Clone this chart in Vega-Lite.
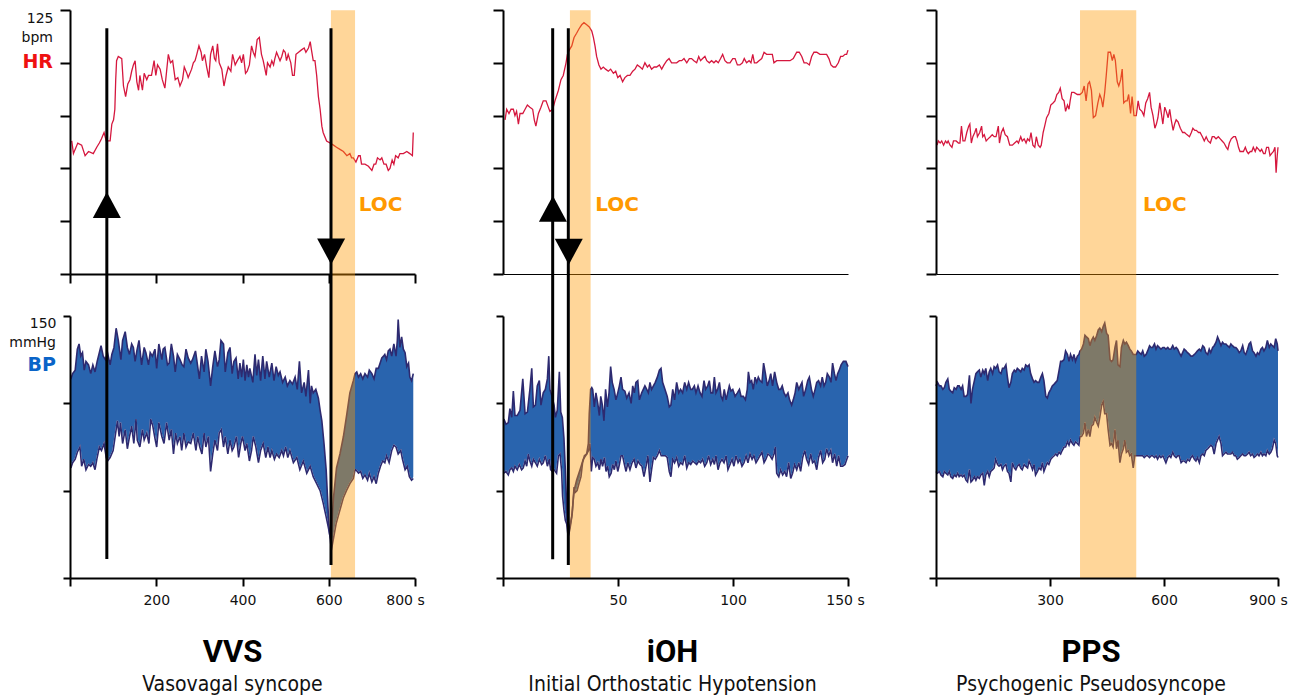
{
"$schema": "https://vega.github.io/schema/vega-lite/v6.json",
"padding": {"left": 9, "top": 9, "right": 2, "bottom": 2},
"background": "white",
"columns": 3,
"spacing": {"row": 42, "column": 88},
"bounds": "flush",
"config": {
  "view": {"stroke": null},
  "font": "DejaVu Sans",
  "axis": {"grid": false, "title": null, "domainColor": "#000", "tickColor": "#000", "domainWidth": 2, "tickWidth": 2, "labelFont": "DejaVu Sans", "labelFontSize": 14, "labelColor": "#111", "labelFlush": false, "labelOverlap": false, "labelBound": false, "zindex": 2},
  "title": {"font": "Roboto", "fontSize": 31, "fontWeight": "bold", "color": "#000", "subtitleFont": "DejaVu Sans Condensed, DejaVu Sans", "subtitleFontSize": 21, "subtitleColor": "#111", "subtitlePadding": 5, "offset": 31, "anchor": "middle", "frame": "group", "orient": "bottom"}
},
"datasets": {
"hr1": [{"t":4,"v":63},{"t":8,"v":57},{"t":18,"v":62},{"t":27,"v":61},{"t":35,"v":56},{"t":43,"v":58},{"t":54,"v":57},{"t":62,"v":60},{"t":68,"v":62},{"t":73,"v":64},{"t":79,"v":67},{"t":84,"v":63},{"t":87,"v":63},{"t":93,"v":63},{"t":97,"v":71},{"t":101,"v":73},{"t":104,"v":78},{"t":106,"v":92},{"t":108,"v":101},{"t":112,"v":103},{"t":120,"v":102},{"t":124,"v":89},{"t":129,"v":84},{"t":134,"v":90},{"t":139,"v":92},{"t":143,"v":96},{"t":147,"v":99},{"t":151,"v":101},{"t":155,"v":91},{"t":159,"v":87},{"t":162,"v":94},{"t":168,"v":87},{"t":172,"v":95},{"t":178,"v":92},{"t":182,"v":94},{"t":189,"v":94},{"t":195,"v":101},{"t":199,"v":94},{"t":203,"v":99},{"t":209,"v":97},{"t":214,"v":92},{"t":220,"v":88},{"t":224,"v":96},{"t":228,"v":104},{"t":233,"v":100},{"t":238,"v":101},{"t":244,"v":92},{"t":250,"v":93},{"t":255,"v":89},{"t":261,"v":92},{"t":265,"v":98},{"t":271,"v":95},{"t":274,"v":93},{"t":282,"v":97},{"t":286,"v":100},{"t":290,"v":101},{"t":294,"v":104},{"t":299,"v":108},{"t":304,"v":105},{"t":307,"v":101},{"t":312,"v":104},{"t":317,"v":98},{"t":322,"v":93},{"t":326,"v":104},{"t":331,"v":108},{"t":335,"v":102},{"t":338,"v":101},{"t":342,"v":109},{"t":346,"v":100},{"t":352,"v":97},{"t":357,"v":89},{"t":362,"v":94},{"t":367,"v":98},{"t":373,"v":96},{"t":377,"v":104},{"t":383,"v":99},{"t":388,"v":101},{"t":394,"v":103},{"t":398,"v":100},{"t":402,"v":104},{"t":407,"v":95},{"t":411,"v":96},{"t":416,"v":99},{"t":421,"v":108},{"t":425,"v":105},{"t":429,"v":103},{"t":434,"v":111},{"t":439,"v":112},{"t":444,"v":104},{"t":448,"v":101},{"t":455,"v":94},{"t":458,"v":100},{"t":464,"v":98},{"t":468,"v":101},{"t":472,"v":99},{"t":475,"v":102},{"t":479,"v":105},{"t":487,"v":101},{"t":491,"v":103},{"t":495,"v":106},{"t":499,"v":105},{"t":502,"v":101},{"t":506,"v":104},{"t":512,"v":100},{"t":516,"v":94},{"t":520,"v":94},{"t":524,"v":104},{"t":530,"v":105},{"t":536,"v":106},{"t":543,"v":107},{"t":547,"v":105},{"t":553,"v":107},{"t":557,"v":110},{"t":560,"v":106},{"t":564,"v":101},{"t":568,"v":101},{"t":572,"v":94},{"t":576,"v":84},{"t":580,"v":78},{"t":584,"v":70},{"t":587,"v":67},{"t":595,"v":63},{"t":603,"v":62},{"t":611,"v":61},{"t":618,"v":60},{"t":626,"v":59},{"t":634,"v":58},{"t":642,"v":56},{"t":649,"v":57},{"t":653,"v":55},{"t":657,"v":55},{"t":663,"v":53},{"t":669,"v":56},{"t":673,"v":56},{"t":676,"v":52},{"t":684,"v":52},{"t":692,"v":51},{"t":700,"v":49},{"t":705,"v":52},{"t":709,"v":52},{"t":713,"v":55},{"t":719,"v":54},{"t":723,"v":55},{"t":728,"v":52},{"t":733,"v":52},{"t":738,"v":49},{"t":742,"v":50},{"t":747,"v":54},{"t":751,"v":52},{"t":755,"v":56},{"t":761,"v":55},{"t":765,"v":57},{"t":773,"v":57},{"t":781,"v":58},{"t":788,"v":57},{"t":794,"v":56},{"t":796,"v":67}],
"s1": [{"t":2,"v":114},{"t":6,"v":117},{"t":12,"v":119},{"t":17,"v":131},{"t":21,"v":134},{"t":25,"v":127},{"t":29,"v":129},{"t":33,"v":119},{"t":37,"v":124},{"t":43,"v":122},{"t":48,"v":117},{"t":53,"v":122},{"t":58,"v":118},{"t":63,"v":124},{"t":68,"v":129},{"t":72,"v":133},{"t":77,"v":127},{"t":82,"v":125},{"t":87,"v":129},{"t":93,"v":122},{"t":97,"v":128},{"t":102,"v":132},{"t":107,"v":143},{"t":112,"v":136},{"t":118,"v":125},{"t":122,"v":136},{"t":128,"v":141},{"t":133,"v":132},{"t":138,"v":128},{"t":143,"v":134},{"t":147,"v":132},{"t":151,"v":124},{"t":155,"v":130},{"t":160,"v":136},{"t":166,"v":122},{"t":172,"v":132},{"t":176,"v":129},{"t":182,"v":122},{"t":186,"v":129},{"t":191,"v":127},{"t":197,"v":131},{"t":201,"v":120},{"t":206,"v":134},{"t":213,"v":125},{"t":216,"v":131},{"t":220,"v":132},{"t":226,"v":122},{"t":230,"v":123},{"t":235,"v":134},{"t":240,"v":127},{"t":244,"v":118},{"t":249,"v":128},{"t":255,"v":125},{"t":260,"v":122},{"t":264,"v":121},{"t":269,"v":131},{"t":274,"v":126},{"t":280,"v":123},{"t":284,"v":125},{"t":291,"v":130},{"t":295,"v":123},{"t":300,"v":114},{"t":305,"v":127},{"t":311,"v":118},{"t":315,"v":131},{"t":320,"v":124},{"t":326,"v":110},{"t":331,"v":121},{"t":336,"v":130},{"t":342,"v":121},{"t":346,"v":125},{"t":350,"v":136},{"t":356,"v":134},{"t":360,"v":118},{"t":366,"v":129},{"t":371,"v":132},{"t":376,"v":117},{"t":380,"v":124},{"t":385,"v":126},{"t":390,"v":114},{"t":394,"v":123},{"t":398,"v":115},{"t":402,"v":125},{"t":406,"v":113},{"t":410,"v":122},{"t":414,"v":115},{"t":417,"v":120},{"t":424,"v":112},{"t":429,"v":128},{"t":433,"v":116},{"t":437,"v":125},{"t":442,"v":113},{"t":447,"v":127},{"t":452,"v":114},{"t":456,"v":124},{"t":462,"v":115},{"t":468,"v":123},{"t":473,"v":113},{"t":478,"v":121},{"t":483,"v":116},{"t":487,"v":118},{"t":493,"v":112},{"t":499,"v":115},{"t":504,"v":110},{"t":510,"v":113},{"t":516,"v":111},{"t":522,"v":115},{"t":527,"v":108},{"t":532,"v":124},{"t":537,"v":106},{"t":543,"v":112},{"t":547,"v":104},{"t":553,"v":119},{"t":557,"v":100},{"t":560,"v":110},{"t":564,"v":106},{"t":570,"v":108},{"t":576,"v":103},{"t":580,"v":96},{"t":584,"v":90},{"t":589,"v":77},{"t":594,"v":62},{"t":597,"v":47},{"t":600,"v":31},{"t":602,"v":25},{"t":605,"v":22},{"t":607,"v":30},{"t":611,"v":46},{"t":618,"v":63},{"t":626,"v":71},{"t":634,"v":81},{"t":642,"v":94},{"t":649,"v":106},{"t":657,"v":113},{"t":661,"v":117},{"t":665,"v":118},{"t":669,"v":115},{"t":674,"v":117},{"t":679,"v":114},{"t":684,"v":117},{"t":690,"v":115},{"t":694,"v":119},{"t":700,"v":117},{"t":705,"v":114},{"t":710,"v":120},{"t":715,"v":120},{"t":719,"v":123},{"t":723,"v":126},{"t":727,"v":127},{"t":730,"v":128},{"t":734,"v":125},{"t":738,"v":130},{"t":742,"v":131},{"t":746,"v":127},{"t":751,"v":134},{"t":756,"v":127},{"t":759,"v":136},{"t":761,"v":148},{"t":765,"v":132},{"t":769,"v":138},{"t":773,"v":131},{"t":777,"v":129},{"t":781,"v":121},{"t":785,"v":123},{"t":788,"v":115},{"t":792,"v":113},{"t":796,"v":117}],
"d1": [{"t":2,"v":63},{"t":6,"v":66},{"t":12,"v":68},{"t":17,"v":72},{"t":23,"v":75},{"t":27,"v":64},{"t":32,"v":68},{"t":37,"v":62},{"t":43,"v":65},{"t":48,"v":64},{"t":53,"v":66},{"t":58,"v":62},{"t":63,"v":69},{"t":68,"v":75},{"t":73,"v":73},{"t":79,"v":77},{"t":84,"v":69},{"t":87,"v":67},{"t":93,"v":69},{"t":100,"v":73},{"t":107,"v":85},{"t":110,"v":90},{"t":114,"v":81},{"t":117,"v":89},{"t":122,"v":77},{"t":128,"v":85},{"t":133,"v":74},{"t":138,"v":81},{"t":143,"v":87},{"t":148,"v":77},{"t":153,"v":91},{"t":156,"v":79},{"t":162,"v":75},{"t":168,"v":85},{"t":172,"v":79},{"t":178,"v":83},{"t":183,"v":77},{"t":187,"v":91},{"t":192,"v":87},{"t":197,"v":80},{"t":201,"v":75},{"t":206,"v":89},{"t":213,"v":81},{"t":218,"v":77},{"t":224,"v":89},{"t":230,"v":79},{"t":235,"v":85},{"t":240,"v":71},{"t":245,"v":83},{"t":249,"v":77},{"t":255,"v":81},{"t":259,"v":73},{"t":264,"v":83},{"t":269,"v":75},{"t":274,"v":78},{"t":280,"v":77},{"t":286,"v":83},{"t":292,"v":73},{"t":296,"v":81},{"t":301,"v":75},{"t":306,"v":71},{"t":311,"v":83},{"t":315,"v":75},{"t":321,"v":81},{"t":326,"v":61},{"t":331,"v":71},{"t":336,"v":79},{"t":342,"v":73},{"t":346,"v":83},{"t":351,"v":85},{"t":356,"v":75},{"t":360,"v":81},{"t":366,"v":71},{"t":371,"v":79},{"t":376,"v":73},{"t":380,"v":75},{"t":386,"v":81},{"t":391,"v":69},{"t":396,"v":77},{"t":400,"v":81},{"t":406,"v":73},{"t":410,"v":77},{"t":416,"v":67},{"t":421,"v":73},{"t":425,"v":81},{"t":431,"v":75},{"t":437,"v":66},{"t":442,"v":73},{"t":448,"v":77},{"t":454,"v":69},{"t":459,"v":75},{"t":464,"v":69},{"t":468,"v":73},{"t":474,"v":68},{"t":479,"v":71},{"t":485,"v":69},{"t":491,"v":73},{"t":495,"v":70},{"t":500,"v":75},{"t":505,"v":69},{"t":510,"v":73},{"t":518,"v":66},{"t":526,"v":69},{"t":533,"v":62},{"t":541,"v":67},{"t":549,"v":60},{"t":557,"v":64},{"t":564,"v":58},{"t":572,"v":54},{"t":580,"v":50},{"t":587,"v":43},{"t":594,"v":35},{"t":599,"v":29},{"t":603,"v":24},{"t":606,"v":16},{"t":609,"v":20},{"t":617,"v":31},{"t":626,"v":39},{"t":634,"v":46},{"t":641,"v":50},{"t":649,"v":54},{"t":657,"v":57},{"t":661,"v":62},{"t":663,"v":62},{"t":669,"v":60},{"t":674,"v":61},{"t":679,"v":57},{"t":684,"v":59},{"t":690,"v":56},{"t":694,"v":60},{"t":700,"v":55},{"t":705,"v":58},{"t":710,"v":54},{"t":715,"v":60},{"t":720,"v":64},{"t":725,"v":67},{"t":730,"v":66},{"t":734,"v":70},{"t":740,"v":66},{"t":746,"v":73},{"t":751,"v":76},{"t":756,"v":75},{"t":761,"v":71},{"t":767,"v":73},{"t":771,"v":68},{"t":777,"v":62},{"t":782,"v":64},{"t":787,"v":58},{"t":792,"v":56},{"t":796,"v":57}],
"hr2": [{"t":0.9,"v":73},{"t":1.6,"v":78},{"t":2.6,"v":76},{"t":3.5,"v":78},{"t":4.5,"v":78},{"t":5.2,"v":75},{"t":5.9,"v":77},{"t":6.7,"v":71},{"t":7.4,"v":76},{"t":8.6,"v":76},{"t":9.6,"v":78},{"t":10.6,"v":80},{"t":11.7,"v":79},{"t":12.9,"v":78},{"t":13.6,"v":73},{"t":14.3,"v":70},{"t":15.4,"v":76},{"t":16.5,"v":79},{"t":17.5,"v":82},{"t":18.7,"v":82},{"t":19.7,"v":79},{"t":20.4,"v":77},{"t":21.6,"v":78},{"t":22.6,"v":82},{"t":24.1,"v":87},{"t":25.2,"v":92},{"t":26.2,"v":94},{"t":27.4,"v":100},{"t":28,"v":104},{"t":28.8,"v":106},{"t":29.9,"v":108},{"t":30.9,"v":112},{"t":32,"v":114},{"t":33,"v":116},{"t":34.2,"v":118},{"t":35.2,"v":119},{"t":36.4,"v":118},{"t":37.5,"v":117},{"t":38.6,"v":115},{"t":39.3,"v":112},{"t":40,"v":108},{"t":40.7,"v":103},{"t":41.7,"v":99},{"t":42.6,"v":97},{"t":43.6,"v":98},{"t":44.6,"v":97},{"t":45.8,"v":96},{"t":46.8,"v":97},{"t":48,"v":95},{"t":49,"v":96},{"t":49.9,"v":93},{"t":50.9,"v":94},{"t":52,"v":91},{"t":53,"v":93},{"t":54.1,"v":94},{"t":55.2,"v":94},{"t":56.4,"v":96},{"t":57.4,"v":97},{"t":58.4,"v":99},{"t":59.6,"v":98},{"t":60.6,"v":97},{"t":61.7,"v":100},{"t":62.8,"v":98},{"t":63.6,"v":99},{"t":64.6,"v":97},{"t":65.7,"v":98},{"t":66.8,"v":98},{"t":68,"v":99},{"t":69,"v":97},{"t":70,"v":99},{"t":71.2,"v":101},{"t":72.2,"v":102},{"t":73.3,"v":100},{"t":74.5,"v":100},{"t":75.5,"v":100},{"t":76.7,"v":101},{"t":77.7,"v":101},{"t":78.7,"v":102},{"t":79.9,"v":100},{"t":81,"v":102},{"t":82,"v":102},{"t":83,"v":101},{"t":84.2,"v":100},{"t":85.1,"v":103},{"t":85.9,"v":101},{"t":86.8,"v":102},{"t":87.8,"v":103},{"t":88.6,"v":101},{"t":89.7,"v":100},{"t":90.7,"v":101},{"t":91.7,"v":100},{"t":92.6,"v":101},{"t":93.6,"v":100},{"t":94.6,"v":102},{"t":95.5,"v":104},{"t":96.5,"v":101},{"t":97.5,"v":100},{"t":98.7,"v":100},{"t":99.9,"v":102},{"t":100.9,"v":102},{"t":101.9,"v":99},{"t":103,"v":99},{"t":104.1,"v":100},{"t":104.9,"v":102},{"t":105.9,"v":100},{"t":107,"v":101},{"t":107.8,"v":100},{"t":108.6,"v":104},{"t":109.3,"v":100},{"t":110.3,"v":100},{"t":111.3,"v":101},{"t":112.5,"v":102},{"t":113.5,"v":105},{"t":114.6,"v":104},{"t":116.1,"v":104},{"t":117.1,"v":104},{"t":117.8,"v":100},{"t":119,"v":101},{"t":120.4,"v":101},{"t":121.9,"v":101},{"t":123.3,"v":101},{"t":124.8,"v":101},{"t":126.2,"v":102},{"t":127.7,"v":105},{"t":128.8,"v":105},{"t":129.9,"v":103},{"t":130.9,"v":100},{"t":132,"v":100},{"t":133.2,"v":99},{"t":134.2,"v":103},{"t":135.2,"v":105},{"t":136.4,"v":105},{"t":137.8,"v":104},{"t":139.3,"v":104},{"t":140.7,"v":104},{"t":141.7,"v":102},{"t":142.6,"v":99},{"t":143.6,"v":98},{"t":144.6,"v":98},{"t":145.8,"v":100},{"t":146.8,"v":103},{"t":147.7,"v":103},{"t":148.7,"v":104},{"t":149.4,"v":104},{"t":150,"v":106}],
"s2": [{"t":0.4,"v":91},{"t":1.3,"v":88},{"t":2.3,"v":89},{"t":3,"v":97},{"t":3.8,"v":92},{"t":4.5,"v":107},{"t":5.2,"v":93},{"t":6.2,"v":93},{"t":7.4,"v":96},{"t":8.6,"v":114},{"t":9.6,"v":94},{"t":10.6,"v":95},{"t":11.7,"v":108},{"t":12.5,"v":120},{"t":13.2,"v":98},{"t":14.1,"v":99},{"t":14.9,"v":110},{"t":15.8,"v":113},{"t":16.5,"v":99},{"t":17.5,"v":106},{"t":18.4,"v":108},{"t":19.3,"v":114},{"t":19.9,"v":127},{"t":20.4,"v":108},{"t":21.3,"v":104},{"t":22.2,"v":99},{"t":22.8,"v":92},{"t":23.6,"v":96},{"t":24.5,"v":118},{"t":25.1,"v":95},{"t":25.8,"v":92},{"t":26.5,"v":80},{"t":27.1,"v":62},{"t":27.7,"v":40},{"t":28.4,"v":24},{"t":29.1,"v":28},{"t":29.9,"v":35},{"t":30.9,"v":50},{"t":32,"v":56},{"t":33.5,"v":62},{"t":34.9,"v":68},{"t":36.4,"v":71},{"t":37.1,"v":77},{"t":37.5,"v":94},{"t":38.1,"v":108},{"t":38.6,"v":109},{"t":39,"v":108},{"t":39.7,"v":98},{"t":40.4,"v":106},{"t":41.2,"v":100},{"t":41.9,"v":93},{"t":42.5,"v":104},{"t":43.2,"v":99},{"t":43.9,"v":90},{"t":44.6,"v":108},{"t":45.4,"v":98},{"t":46.1,"v":106},{"t":46.8,"v":121},{"t":47.5,"v":112},{"t":48.3,"v":108},{"t":49.1,"v":102},{"t":49.9,"v":106},{"t":50.6,"v":110},{"t":51.3,"v":115},{"t":52,"v":108},{"t":53,"v":107},{"t":53.8,"v":103},{"t":54.8,"v":106},{"t":55.7,"v":100},{"t":56.4,"v":110},{"t":57.1,"v":106},{"t":57.8,"v":112},{"t":58.6,"v":113},{"t":59.3,"v":102},{"t":60.3,"v":106},{"t":61,"v":108},{"t":61.7,"v":110},{"t":62.5,"v":108},{"t":63.2,"v":106},{"t":63.9,"v":112},{"t":64.6,"v":108},{"t":65.4,"v":110},{"t":66.2,"v":112},{"t":67.1,"v":115},{"t":68,"v":119},{"t":68.7,"v":120},{"t":69.4,"v":112},{"t":70.4,"v":108},{"t":71.4,"v":104},{"t":72.3,"v":98},{"t":73,"v":99},{"t":73.8,"v":108},{"t":74.6,"v":102},{"t":75.5,"v":112},{"t":76.4,"v":106},{"t":77.2,"v":108},{"t":78.1,"v":106},{"t":79,"v":112},{"t":79.9,"v":108},{"t":80.7,"v":112},{"t":81.6,"v":108},{"t":82.3,"v":108},{"t":83.2,"v":110},{"t":83.9,"v":106},{"t":84.8,"v":110},{"t":85.7,"v":106},{"t":86.5,"v":104},{"t":87.4,"v":113},{"t":88.1,"v":108},{"t":89,"v":110},{"t":89.7,"v":113},{"t":90.4,"v":106},{"t":91.2,"v":106},{"t":91.9,"v":115},{"t":92.6,"v":106},{"t":93.3,"v":108},{"t":94.1,"v":112},{"t":94.8,"v":104},{"t":95.5,"v":102},{"t":96.2,"v":108},{"t":97,"v":102},{"t":97.7,"v":106},{"t":98.4,"v":110},{"t":99.1,"v":107},{"t":99.9,"v":108},{"t":100.9,"v":104},{"t":101.9,"v":106},{"t":102.8,"v":108},{"t":103.5,"v":104},{"t":104.5,"v":104},{"t":105.4,"v":102},{"t":106.2,"v":108},{"t":106.7,"v":118},{"t":107.4,"v":112},{"t":108.1,"v":113},{"t":108.8,"v":108},{"t":109.6,"v":115},{"t":110.3,"v":112},{"t":111,"v":115},{"t":111.7,"v":113},{"t":112.6,"v":112},{"t":113.3,"v":123},{"t":114.1,"v":117},{"t":114.9,"v":110},{"t":115.7,"v":113},{"t":116.4,"v":117},{"t":117.2,"v":110},{"t":118.1,"v":118},{"t":119,"v":112},{"t":119.9,"v":108},{"t":120.7,"v":108},{"t":121.4,"v":110},{"t":122.2,"v":106},{"t":123,"v":104},{"t":123.9,"v":106},{"t":124.6,"v":102},{"t":125.5,"v":99},{"t":126.2,"v":102},{"t":127,"v":106},{"t":127.7,"v":112},{"t":128.6,"v":108},{"t":129.3,"v":110},{"t":130,"v":112},{"t":130.7,"v":104},{"t":131.6,"v":108},{"t":132.5,"v":113},{"t":133.2,"v":115},{"t":134.1,"v":108},{"t":134.9,"v":104},{"t":135.7,"v":108},{"t":136.4,"v":112},{"t":137.2,"v":113},{"t":138.1,"v":110},{"t":138.8,"v":115},{"t":139.6,"v":110},{"t":140.3,"v":112},{"t":141,"v":117},{"t":141.9,"v":115},{"t":142.6,"v":112},{"t":143.3,"v":123},{"t":144.1,"v":117},{"t":144.8,"v":113},{"t":145.5,"v":117},{"t":146.2,"v":119},{"t":147,"v":122},{"t":148,"v":124},{"t":149.1,"v":124},{"t":150,"v":121}],
"d2": [{"t":0.4,"v":60},{"t":1.3,"v":61},{"t":2.3,"v":59},{"t":3,"v":62},{"t":3.8,"v":63},{"t":4.5,"v":61},{"t":5.2,"v":64},{"t":6.2,"v":62},{"t":7.1,"v":65},{"t":8.1,"v":62},{"t":8.8,"v":63},{"t":9.6,"v":67},{"t":10.3,"v":64},{"t":11,"v":71},{"t":11.7,"v":67},{"t":12.5,"v":64},{"t":13.2,"v":68},{"t":14.1,"v":66},{"t":14.9,"v":64},{"t":15.8,"v":68},{"t":16.8,"v":65},{"t":17.5,"v":66},{"t":18.4,"v":70},{"t":19.3,"v":64},{"t":20.1,"v":68},{"t":20.7,"v":62},{"t":21.4,"v":61},{"t":22.2,"v":62},{"t":22.8,"v":61},{"t":23.3,"v":60},{"t":24.1,"v":70},{"t":24.8,"v":71},{"t":25.5,"v":61},{"t":25.9,"v":47},{"t":26.5,"v":39},{"t":27.1,"v":33},{"t":27.7,"v":31},{"t":28.3,"v":24},{"t":28.8,"v":28},{"t":29.3,"v":31},{"t":30.1,"v":37},{"t":30.9,"v":52},{"t":31.4,"v":49},{"t":32.2,"v":50},{"t":33,"v":54},{"t":33.9,"v":58},{"t":34.6,"v":66},{"t":35.4,"v":70},{"t":36.4,"v":71},{"t":37.2,"v":73},{"t":37.8,"v":77},{"t":38.4,"v":61},{"t":39,"v":69},{"t":39.7,"v":68},{"t":40.4,"v":64},{"t":41.2,"v":66},{"t":41.9,"v":62},{"t":42.6,"v":68},{"t":43.3,"v":64},{"t":44.1,"v":69},{"t":44.8,"v":61},{"t":45.5,"v":64},{"t":46.2,"v":58},{"t":47,"v":60},{"t":47.7,"v":65},{"t":48.4,"v":62},{"t":49.1,"v":67},{"t":49.9,"v":61},{"t":50.6,"v":65},{"t":51.3,"v":70},{"t":52,"v":70},{"t":52.8,"v":65},{"t":53.5,"v":61},{"t":54.3,"v":66},{"t":55.2,"v":62},{"t":56.1,"v":66},{"t":57,"v":68},{"t":57.8,"v":63},{"t":58.7,"v":67},{"t":59.6,"v":65},{"t":60.4,"v":64},{"t":61.3,"v":58},{"t":62.2,"v":64},{"t":63,"v":70},{"t":63.9,"v":55},{"t":64.6,"v":62},{"t":65.4,"v":69},{"t":66.2,"v":68},{"t":67.1,"v":70},{"t":68,"v":73},{"t":68.8,"v":70},{"t":69.7,"v":70},{"t":70.6,"v":70},{"t":71.4,"v":69},{"t":72.3,"v":61},{"t":73,"v":58},{"t":73.8,"v":68},{"t":74.6,"v":66},{"t":75.5,"v":69},{"t":76.4,"v":64},{"t":77.2,"v":66},{"t":78.1,"v":65},{"t":79,"v":70},{"t":79.9,"v":63},{"t":80.7,"v":66},{"t":81.6,"v":65},{"t":82.5,"v":67},{"t":83.3,"v":66},{"t":84.2,"v":65},{"t":85.1,"v":67},{"t":85.9,"v":66},{"t":86.8,"v":68},{"t":87.7,"v":64},{"t":88.6,"v":66},{"t":89.4,"v":70},{"t":90.3,"v":65},{"t":91.2,"v":68},{"t":91.9,"v":65},{"t":92.6,"v":70},{"t":93.5,"v":62},{"t":94.3,"v":66},{"t":95.2,"v":68},{"t":96.1,"v":66},{"t":97,"v":70},{"t":97.8,"v":62},{"t":98.7,"v":65},{"t":99.6,"v":68},{"t":100.4,"v":64},{"t":101.3,"v":70},{"t":102.2,"v":66},{"t":103,"v":68},{"t":103.9,"v":64},{"t":104.8,"v":66},{"t":105.7,"v":70},{"t":106.5,"v":66},{"t":107.4,"v":71},{"t":108.3,"v":68},{"t":109.1,"v":70},{"t":110,"v":66},{"t":110.9,"v":68},{"t":111.7,"v":70},{"t":112.6,"v":72},{"t":113.5,"v":66},{"t":114.3,"v":68},{"t":115.2,"v":71},{"t":116.1,"v":70},{"t":117,"v":68},{"t":117.8,"v":71},{"t":118.4,"v":75},{"t":119,"v":60},{"t":119.9,"v":58},{"t":120.7,"v":62},{"t":121.6,"v":59},{"t":122.5,"v":61},{"t":123.3,"v":58},{"t":124.2,"v":66},{"t":125.1,"v":57},{"t":125.9,"v":60},{"t":126.8,"v":65},{"t":127.7,"v":62},{"t":128.6,"v":66},{"t":129.4,"v":61},{"t":130.3,"v":69},{"t":131.2,"v":73},{"t":132,"v":68},{"t":132.9,"v":65},{"t":133.8,"v":71},{"t":134.6,"v":66},{"t":135.5,"v":67},{"t":136.4,"v":62},{"t":137.2,"v":69},{"t":138.1,"v":73},{"t":139,"v":66},{"t":139.9,"v":68},{"t":140.7,"v":74},{"t":141.6,"v":70},{"t":142.5,"v":73},{"t":143.3,"v":66},{"t":144.2,"v":71},{"t":145.1,"v":64},{"t":145.9,"v":70},{"t":146.8,"v":64},{"t":147.7,"v":64},{"t":148.7,"v":65},{"t":150,"v":70}],
"hr3": [{"t":3,"v":61},{"t":6,"v":63},{"t":11,"v":62},{"t":15,"v":63},{"t":20,"v":61},{"t":25,"v":63},{"t":29,"v":62},{"t":32,"v":63},{"t":37,"v":61},{"t":42,"v":60},{"t":46,"v":63},{"t":53,"v":63},{"t":59,"v":62},{"t":63,"v":62},{"t":67,"v":70},{"t":71,"v":63},{"t":76,"v":63},{"t":81,"v":67},{"t":86,"v":70},{"t":89,"v":71},{"t":93,"v":62},{"t":97,"v":65},{"t":102,"v":67},{"t":106,"v":69},{"t":109,"v":65},{"t":115,"v":67},{"t":120,"v":70},{"t":123,"v":65},{"t":127,"v":66},{"t":132,"v":63},{"t":137,"v":64},{"t":143,"v":65},{"t":148,"v":66},{"t":153,"v":65},{"t":158,"v":65},{"t":164,"v":70},{"t":167,"v":62},{"t":172,"v":67},{"t":177,"v":69},{"t":182,"v":66},{"t":188,"v":65},{"t":194,"v":61},{"t":201,"v":61},{"t":207,"v":62},{"t":213,"v":63},{"t":217,"v":62},{"t":223,"v":65},{"t":227,"v":63},{"t":232,"v":64},{"t":237,"v":62},{"t":241,"v":64},{"t":246,"v":63},{"t":250,"v":67},{"t":255,"v":61},{"t":260,"v":60},{"t":264,"v":65},{"t":269,"v":61},{"t":274,"v":60},{"t":277,"v":61},{"t":282,"v":67},{"t":286,"v":70},{"t":291,"v":74},{"t":297,"v":76},{"t":302,"v":80},{"t":308,"v":81},{"t":313,"v":82},{"t":318,"v":85},{"t":323,"v":86},{"t":327,"v":88},{"t":332,"v":83},{"t":337,"v":82},{"t":341,"v":77},{"t":346,"v":80},{"t":350,"v":78},{"t":353,"v":82},{"t":357,"v":86},{"t":363,"v":86},{"t":372,"v":85},{"t":379,"v":85},{"t":385,"v":86},{"t":390,"v":89},{"t":395,"v":82},{"t":400,"v":90},{"t":404,"v":91},{"t":409,"v":87},{"t":414,"v":74},{"t":420,"v":75},{"t":426,"v":81},{"t":431,"v":85},{"t":435,"v":83},{"t":439,"v":79},{"t":444,"v":86},{"t":448,"v":94},{"t":453,"v":105},{"t":459,"v":105},{"t":464,"v":101},{"t":468,"v":104},{"t":472,"v":101},{"t":477,"v":91},{"t":481,"v":89},{"t":486,"v":92},{"t":490,"v":97},{"t":494,"v":81},{"t":499,"v":82},{"t":503,"v":82},{"t":507,"v":85},{"t":512,"v":76},{"t":516,"v":84},{"t":521,"v":75},{"t":527,"v":75},{"t":532,"v":82},{"t":536,"v":78},{"t":542,"v":77},{"t":547,"v":75},{"t":552,"v":81},{"t":557,"v":83},{"t":562,"v":86},{"t":566,"v":79},{"t":571,"v":75},{"t":576,"v":69},{"t":580,"v":71},{"t":584,"v":74},{"t":589,"v":81},{"t":593,"v":76},{"t":597,"v":71},{"t":602,"v":79},{"t":606,"v":77},{"t":611,"v":74},{"t":615,"v":78},{"t":619,"v":73},{"t":624,"v":68},{"t":628,"v":71},{"t":632,"v":73},{"t":637,"v":72},{"t":643,"v":69},{"t":649,"v":67},{"t":654,"v":67},{"t":660,"v":66},{"t":667,"v":65},{"t":672,"v":67},{"t":676,"v":69},{"t":681,"v":68},{"t":685,"v":68},{"t":691,"v":67},{"t":695,"v":67},{"t":701,"v":65},{"t":706,"v":63},{"t":711,"v":65},{"t":716,"v":63},{"t":722,"v":62},{"t":727,"v":65},{"t":732,"v":65},{"t":737,"v":64},{"t":743,"v":65},{"t":748,"v":64},{"t":753,"v":63},{"t":758,"v":62},{"t":764,"v":60},{"t":768,"v":59},{"t":772,"v":62},{"t":777,"v":64},{"t":783,"v":65},{"t":788,"v":65},{"t":792,"v":63},{"t":796,"v":60},{"t":800,"v":58},{"t":805,"v":58},{"t":809,"v":58},{"t":814,"v":60},{"t":818,"v":58},{"t":822,"v":57},{"t":827,"v":58},{"t":831,"v":58},{"t":835,"v":60},{"t":840,"v":58},{"t":844,"v":60},{"t":849,"v":59},{"t":853,"v":58},{"t":857,"v":59},{"t":862,"v":57},{"t":866,"v":57},{"t":870,"v":60},{"t":875,"v":60},{"t":879,"v":56},{"t":883,"v":57},{"t":888,"v":58},{"t":892,"v":60},{"t":895,"v":48},{"t":898,"v":56},{"t":900,"v":60}],
"s3": [{"t":0,"v":110},{"t":4,"v":112},{"t":9,"v":110},{"t":13,"v":110},{"t":18,"v":108},{"t":22,"v":109},{"t":26,"v":112},{"t":31,"v":114},{"t":35,"v":108},{"t":39,"v":107},{"t":44,"v":106},{"t":48,"v":109},{"t":53,"v":108},{"t":57,"v":110},{"t":61,"v":110},{"t":66,"v":108},{"t":70,"v":110},{"t":74,"v":104},{"t":79,"v":104},{"t":83,"v":105},{"t":88,"v":116},{"t":92,"v":100},{"t":96,"v":108},{"t":101,"v":113},{"t":105,"v":117},{"t":109,"v":118},{"t":114,"v":119},{"t":118,"v":115},{"t":123,"v":119},{"t":127,"v":117},{"t":131,"v":120},{"t":136,"v":113},{"t":140,"v":118},{"t":144,"v":120},{"t":149,"v":117},{"t":153,"v":121},{"t":157,"v":120},{"t":162,"v":122},{"t":166,"v":118},{"t":171,"v":117},{"t":175,"v":120},{"t":179,"v":120},{"t":184,"v":122},{"t":188,"v":115},{"t":192,"v":109},{"t":197,"v":112},{"t":201,"v":117},{"t":206,"v":119},{"t":210,"v":118},{"t":214,"v":120},{"t":219,"v":119},{"t":223,"v":118},{"t":227,"v":120},{"t":232,"v":119},{"t":236,"v":122},{"t":241,"v":121},{"t":245,"v":122},{"t":249,"v":117},{"t":254,"v":114},{"t":258,"v":112},{"t":262,"v":113},{"t":267,"v":112},{"t":271,"v":112},{"t":276,"v":115},{"t":280,"v":117},{"t":284,"v":113},{"t":289,"v":104},{"t":293,"v":103},{"t":297,"v":106},{"t":302,"v":108},{"t":306,"v":110},{"t":311,"v":111},{"t":315,"v":112},{"t":319,"v":113},{"t":324,"v":119},{"t":328,"v":124},{"t":332,"v":124},{"t":337,"v":125},{"t":341,"v":130},{"t":346,"v":128},{"t":350,"v":124},{"t":354,"v":128},{"t":359,"v":125},{"t":363,"v":128},{"t":367,"v":124},{"t":372,"v":127},{"t":376,"v":128},{"t":379,"v":130},{"t":383,"v":131},{"t":388,"v":134},{"t":392,"v":139},{"t":396,"v":138},{"t":401,"v":137},{"t":405,"v":133},{"t":409,"v":136},{"t":414,"v":138},{"t":418,"v":136},{"t":423,"v":139},{"t":427,"v":142},{"t":431,"v":143},{"t":436,"v":141},{"t":440,"v":144},{"t":444,"v":146},{"t":449,"v":140},{"t":453,"v":139},{"t":458,"v":125},{"t":462,"v":124},{"t":466,"v":125},{"t":471,"v":132},{"t":475,"v":136},{"t":479,"v":122},{"t":484,"v":121},{"t":488,"v":132},{"t":493,"v":136},{"t":497,"v":134},{"t":501,"v":135},{"t":506,"v":133},{"t":510,"v":131},{"t":514,"v":130},{"t":519,"v":128},{"t":523,"v":128},{"t":527,"v":128},{"t":531,"v":130},{"t":535,"v":129},{"t":540,"v":128},{"t":544,"v":130},{"t":548,"v":127},{"t":553,"v":128},{"t":557,"v":130},{"t":562,"v":133},{"t":566,"v":132},{"t":570,"v":132},{"t":575,"v":134},{"t":579,"v":131},{"t":583,"v":133},{"t":588,"v":132},{"t":592,"v":131},{"t":597,"v":132},{"t":601,"v":132},{"t":605,"v":131},{"t":610,"v":132},{"t":614,"v":131},{"t":618,"v":131},{"t":623,"v":133},{"t":627,"v":131},{"t":632,"v":132},{"t":636,"v":131},{"t":640,"v":129},{"t":645,"v":127},{"t":649,"v":129},{"t":653,"v":131},{"t":658,"v":130},{"t":662,"v":129},{"t":667,"v":128},{"t":671,"v":127},{"t":675,"v":127},{"t":680,"v":128},{"t":684,"v":129},{"t":688,"v":130},{"t":693,"v":131},{"t":697,"v":130},{"t":702,"v":133},{"t":706,"v":132},{"t":710,"v":129},{"t":715,"v":128},{"t":719,"v":131},{"t":723,"v":129},{"t":728,"v":132},{"t":732,"v":133},{"t":737,"v":135},{"t":741,"v":138},{"t":745,"v":136},{"t":750,"v":133},{"t":754,"v":135},{"t":758,"v":134},{"t":763,"v":134},{"t":767,"v":133},{"t":772,"v":132},{"t":776,"v":134},{"t":780,"v":133},{"t":785,"v":132},{"t":789,"v":132},{"t":793,"v":131},{"t":798,"v":129},{"t":802,"v":130},{"t":807,"v":133},{"t":811,"v":129},{"t":815,"v":128},{"t":820,"v":131},{"t":824,"v":134},{"t":828,"v":135},{"t":833,"v":130},{"t":837,"v":129},{"t":842,"v":127},{"t":846,"v":129},{"t":850,"v":128},{"t":855,"v":131},{"t":859,"v":132},{"t":863,"v":130},{"t":868,"v":132},{"t":872,"v":136},{"t":877,"v":132},{"t":881,"v":134},{"t":885,"v":133},{"t":890,"v":132},{"t":894,"v":137},{"t":898,"v":134},{"t":900,"v":130}],
"d3": [{"t":0,"v":61},{"t":4,"v":60},{"t":9,"v":61},{"t":13,"v":59},{"t":18,"v":58},{"t":22,"v":61},{"t":26,"v":60},{"t":31,"v":59},{"t":35,"v":61},{"t":39,"v":58},{"t":44,"v":57},{"t":48,"v":59},{"t":53,"v":58},{"t":57,"v":60},{"t":61,"v":58},{"t":66,"v":59},{"t":70,"v":58},{"t":74,"v":59},{"t":79,"v":56},{"t":83,"v":55},{"t":88,"v":62},{"t":92,"v":55},{"t":96,"v":56},{"t":101,"v":58},{"t":105,"v":56},{"t":109,"v":58},{"t":114,"v":57},{"t":118,"v":59},{"t":123,"v":60},{"t":127,"v":53},{"t":131,"v":59},{"t":136,"v":61},{"t":140,"v":58},{"t":144,"v":61},{"t":149,"v":62},{"t":153,"v":63},{"t":157,"v":68},{"t":162,"v":65},{"t":166,"v":64},{"t":171,"v":65},{"t":175,"v":62},{"t":179,"v":64},{"t":184,"v":65},{"t":188,"v":61},{"t":192,"v":60},{"t":197,"v":55},{"t":201,"v":66},{"t":206,"v":63},{"t":210,"v":62},{"t":214,"v":64},{"t":219,"v":65},{"t":223,"v":63},{"t":227,"v":62},{"t":232,"v":65},{"t":236,"v":64},{"t":241,"v":63},{"t":245,"v":67},{"t":249,"v":65},{"t":254,"v":62},{"t":258,"v":65},{"t":262,"v":59},{"t":267,"v":61},{"t":271,"v":63},{"t":276,"v":62},{"t":280,"v":66},{"t":284,"v":61},{"t":289,"v":64},{"t":293,"v":66},{"t":297,"v":65},{"t":302,"v":68},{"t":306,"v":69},{"t":311,"v":70},{"t":315,"v":71},{"t":319,"v":70},{"t":324,"v":72},{"t":328,"v":71},{"t":332,"v":73},{"t":337,"v":75},{"t":341,"v":75},{"t":346,"v":78},{"t":350,"v":76},{"t":354,"v":79},{"t":359,"v":77},{"t":363,"v":76},{"t":367,"v":78},{"t":372,"v":77},{"t":376,"v":76},{"t":379,"v":81},{"t":383,"v":81},{"t":388,"v":83},{"t":392,"v":89},{"t":396,"v":81},{"t":401,"v":85},{"t":405,"v":81},{"t":409,"v":87},{"t":414,"v":88},{"t":418,"v":92},{"t":423,"v":89},{"t":427,"v":87},{"t":431,"v":92},{"t":436,"v":99},{"t":440,"v":101},{"t":444,"v":94},{"t":449,"v":94},{"t":453,"v":85},{"t":458,"v":76},{"t":462,"v":77},{"t":466,"v":75},{"t":471,"v":85},{"t":475,"v":74},{"t":479,"v":79},{"t":484,"v":66},{"t":488,"v":71},{"t":493,"v":74},{"t":497,"v":79},{"t":501,"v":72},{"t":506,"v":73},{"t":510,"v":70},{"t":514,"v":71},{"t":519,"v":63},{"t":523,"v":70},{"t":527,"v":70},{"t":531,"v":70},{"t":535,"v":70},{"t":540,"v":70},{"t":544,"v":70},{"t":548,"v":69},{"t":553,"v":70},{"t":557,"v":70},{"t":562,"v":69},{"t":566,"v":70},{"t":570,"v":70},{"t":575,"v":69},{"t":579,"v":70},{"t":583,"v":68},{"t":588,"v":70},{"t":592,"v":69},{"t":597,"v":70},{"t":601,"v":68},{"t":605,"v":66},{"t":610,"v":69},{"t":614,"v":70},{"t":618,"v":69},{"t":623,"v":72},{"t":627,"v":70},{"t":632,"v":69},{"t":636,"v":70},{"t":640,"v":70},{"t":645,"v":66},{"t":649,"v":67},{"t":653,"v":67},{"t":658,"v":66},{"t":662,"v":68},{"t":667,"v":67},{"t":671,"v":69},{"t":675,"v":70},{"t":680,"v":68},{"t":684,"v":67},{"t":688,"v":69},{"t":693,"v":66},{"t":697,"v":70},{"t":702,"v":71},{"t":706,"v":70},{"t":710,"v":73},{"t":715,"v":74},{"t":719,"v":75},{"t":723,"v":76},{"t":728,"v":75},{"t":732,"v":71},{"t":737,"v":77},{"t":741,"v":79},{"t":745,"v":81},{"t":750,"v":77},{"t":754,"v":70},{"t":758,"v":71},{"t":763,"v":72},{"t":767,"v":71},{"t":772,"v":71},{"t":776,"v":71},{"t":780,"v":72},{"t":785,"v":70},{"t":789,"v":70},{"t":793,"v":68},{"t":798,"v":69},{"t":802,"v":70},{"t":807,"v":71},{"t":811,"v":70},{"t":815,"v":70},{"t":820,"v":71},{"t":824,"v":72},{"t":828,"v":70},{"t":833,"v":71},{"t":837,"v":69},{"t":842,"v":70},{"t":846,"v":71},{"t":850,"v":70},{"t":855,"v":72},{"t":859,"v":70},{"t":863,"v":71},{"t":868,"v":70},{"t":872,"v":73},{"t":877,"v":71},{"t":881,"v":72},{"t":885,"v":74},{"t":890,"v":79},{"t":894,"v":77},{"t":898,"v":70},{"t":900,"v":69}]
},
"concat": [
{
 "width": 345, "height": 264,
 "layer": [
  {"data": {"name": "hr1"}, "mark": {"type": "line", "color": "#D5173E", "strokeWidth": 1.3},
   "encoding": {
    "x": {"field": "t", "type": "quantitative", "scale": {"domain": [0, 800], "nice": false, "zero": false}, "axis": {"values": [0, 200, 400, 600, 800], "labels": false, "tickSize": 9, "zindex": 2}},
    "y": {"field": "v", "type": "quantitative", "scale": {"domain": [0, 125], "nice": false}, "axis": {"values": [0, 25, 50, 75, 100, 125], "tickSize": 10, "labelExpr": "datum.value == 125 ? '125' : ''", "labelBaseline": "top", "labelPadding": 7, "labelOffset": 1, "zindex": 2}}
   }},
  {"data": {"values": [{"s": "bpm", "v": 111.7}]}, "mark": {"type": "text", "align": "right", "baseline": "middle", "dx": -17, "fontSize": 14, "color": "#111"},
   "encoding": {"x": {"datum": 0, "type": "quantitative"}, "y": {"field": "v", "type": "quantitative"}, "text": {"field": "s"}}},
  {"data": {"values": [{"s": "HR", "v": 100.4}]}, "mark": {"type": "text", "align": "right", "baseline": "middle", "dx": -17, "fontSize": 19, "fontWeight": "bold", "color": "#EE1111"},
   "encoding": {"x": {"datum": 0, "type": "quantitative"}, "y": {"field": "v", "type": "quantitative"}, "text": {"field": "s"}}},
  {"data": {"values": [{"s": "LOC", "t": 720, "v": 32.7}]}, "mark": {"type": "text", "align": "center", "baseline": "middle", "fontSize": 20, "fontWeight": "bold", "color": "#FF9900"},
   "encoding": {"x": {"field": "t", "type": "quantitative"}, "y": {"field": "v", "type": "quantitative"}, "text": {"field": "s"}}}
 ]
},
{
 "width": 345, "height": 264,
 "layer": [
  {"data": {"name": "hr2"}, "mark": {"type": "line", "color": "#D5173E", "strokeWidth": 1.3},
   "encoding": {
    "x": {"field": "t", "type": "quantitative", "scale": {"domain": [0, 150], "nice": false, "zero": false}, "axis": {"ticks": false, "labels": false, "domainWidth": 1.2, "zindex": 2}},
    "y": {"field": "v", "type": "quantitative", "scale": {"domain": [0, 125], "nice": false}, "axis": {"values": [0, 25, 50, 75, 100, 125], "tickSize": 10, "labels": false, "zindex": 2}}
   }},
  {"data": {"values": [{"s": "LOC", "t": 49.6, "v": 32.7}]}, "mark": {"type": "text", "align": "center", "baseline": "middle", "fontSize": 20, "fontWeight": "bold", "color": "#FF9900"},
   "encoding": {"x": {"field": "t", "type": "quantitative"}, "y": {"field": "v", "type": "quantitative"}, "text": {"field": "s"}}}
 ]
},
{
 "width": 342, "height": 264,
 "layer": [
  {"data": {"name": "hr3"}, "mark": {"type": "line", "color": "#D5173E", "strokeWidth": 1.3},
   "encoding": {
    "x": {"field": "t", "type": "quantitative", "scale": {"domain": [0, 900], "nice": false, "zero": false}, "axis": {"ticks": false, "labels": false, "domainWidth": 1.2, "zindex": 2}},
    "y": {"field": "v", "type": "quantitative", "scale": {"domain": [0, 125], "nice": false}, "axis": {"values": [0, 25, 50, 75, 100, 125], "tickSize": 10, "labels": false, "zindex": 2}}
   }},
  {"data": {"values": [{"s": "LOC", "t": 602, "v": 32.7}]}, "mark": {"type": "text", "align": "center", "baseline": "middle", "fontSize": 20, "fontWeight": "bold", "color": "#FF9900"},
   "encoding": {"x": {"field": "t", "type": "quantitative"}, "y": {"field": "v", "type": "quantitative"}, "text": {"field": "s"}}}
 ]
},
{
 "width": 345, "height": 262,
 "title": {"text": "VVS", "subtitle": "Vasovagal syncope", "dx": -10},
 "layer": [
  {"data": {"name": "s1"}, "mark": {"type": "area", "color": "#2964AE"},
   "encoding": {
    "x": {"field": "t", "type": "quantitative", "scale": {"domain": [0, 800], "nice": false, "zero": false}, "axis": {"values": [0, 200, 400, 600, 800], "tickSize": 8, "labelPadding": 7, "zindex": 2, "labelExpr": "datum.value == 0 ? '' : datum.value == 800 ? '800 s' : datum.label", "labelOffset": {"condition": {"test": "datum.value == 800", "value": -10}, "value": 0}}},
    "y": {"field": "v", "type": "quantitative", "scale": {"domain": [0, 150], "nice": false}, "axis": {"values": [0, 50, 100, 150], "tickSize": 7, "zindex": 2, "labelExpr": "datum.value == 150 ? '150' : ''", "labelBaseline": "top", "labelPadding": 7, "labelOffset": 0}}
   }},
  {"data": {"name": "d1"}, "mark": {"type": "area", "color": "#FFFFFF", "stroke": "#FFFFFF", "strokeWidth": 1.5}, "encoding": {"x": {"field": "t", "type": "quantitative"}, "y": {"field": "v", "type": "quantitative"}}},
  {"data": {"name": "s1"}, "mark": {"type": "line", "color": "#2D2A70", "strokeWidth": 1.6}, "encoding": {"x": {"field": "t", "type": "quantitative"}, "y": {"field": "v", "type": "quantitative"}}},
  {"data": {"name": "d1"}, "mark": {"type": "line", "color": "#2D2A70", "strokeWidth": 1.6}, "encoding": {"x": {"field": "t", "type": "quantitative"}, "y": {"field": "v", "type": "quantitative"}}},
  {"data": {"values": [{"a": 605, "b": 661, "lo": 0, "hi": 325}]}, "mark": {"type": "rect", "color": "#FF9900", "opacity": 0.4},
   "encoding": {"x": {"field": "a", "type": "quantitative"}, "x2": {"field": "b"}, "y": {"field": "lo", "type": "quantitative"}, "y2": {"field": "hi"}}},
  {"data": {"values": [{"t": 85.4, "lo": 10.9, "hi": 314.7}, {"t": 605.2, "lo": 7.4, "hi": 314.7}]}, "mark": {"type": "rule", "color": "#000", "strokeWidth": 3},
   "encoding": {"x": {"field": "t", "type": "quantitative"}, "y": {"field": "lo", "type": "quantitative"}, "y2": {"field": "hi"}}},
  {"data": {"values": [{"t": 85.4, "v": 213.5, "d": "up"}, {"t": 605.5, "v": 186.9, "d": "down"}]}, "mark": {"type": "point", "filled": true, "color": "#000", "size": 784, "opacity": 1},
   "encoding": {"x": {"field": "t", "type": "quantitative"}, "y": {"field": "v", "type": "quantitative"}, "shape": {"field": "d", "type": "nominal", "scale": {"domain": ["up", "down"], "range": ["M0,-0.93L1,0.93L-1,0.93Z", "M0,0.93L1,-0.93L-1,-0.93Z"]}, "legend": null}}},
  {"data": {"values": [{"s": "mmHg", "v": 134.3}]}, "mark": {"type": "text", "align": "right", "baseline": "middle", "dx": -14, "fontSize": 14, "color": "#111"},
   "encoding": {"x": {"datum": 0, "type": "quantitative"}, "y": {"field": "v", "type": "quantitative"}, "text": {"field": "s"}}},
  {"data": {"values": [{"s": "BP", "v": 121.9}]}, "mark": {"type": "text", "align": "right", "baseline": "middle", "dx": -14, "fontSize": 19, "fontWeight": "bold", "color": "#0A64C8"},
   "encoding": {"x": {"datum": 0, "type": "quantitative"}, "y": {"field": "v", "type": "quantitative"}, "text": {"field": "s"}}}
 ]
},
{
 "width": 345, "height": 262,
 "title": {"text": "iOH", "subtitle": "Initial Orthostatic Hypotension", "dx": -3},
 "layer": [
  {"data": {"name": "s2"}, "mark": {"type": "area", "color": "#2964AE"},
   "encoding": {
    "x": {"field": "t", "type": "quantitative", "scale": {"domain": [0, 150], "nice": false, "zero": false}, "axis": {"values": [0, 50, 100, 150], "tickSize": 8, "labelPadding": 7, "zindex": 2, "labelExpr": "datum.value == 0 ? '' : datum.value == 150 ? '150 s' : datum.label", "labelOffset": {"condition": {"test": "datum.value == 150", "value": -3}, "value": 0}}},
    "y": {"field": "v", "type": "quantitative", "scale": {"domain": [0, 150], "nice": false}, "axis": {"values": [0, 50, 100, 150], "tickSize": 7, "labels": false, "zindex": 2}}
   }},
  {"data": {"name": "d2"}, "mark": {"type": "area", "color": "#FFFFFF", "stroke": "#FFFFFF", "strokeWidth": 1.5}, "encoding": {"x": {"field": "t", "type": "quantitative"}, "y": {"field": "v", "type": "quantitative"}}},
  {"data": {"name": "s2"}, "mark": {"type": "line", "color": "#2D2A70", "strokeWidth": 1.6}, "encoding": {"x": {"field": "t", "type": "quantitative"}, "y": {"field": "v", "type": "quantitative"}}},
  {"data": {"name": "d2"}, "mark": {"type": "line", "color": "#2D2A70", "strokeWidth": 1.6}, "encoding": {"x": {"field": "t", "type": "quantitative"}, "y": {"field": "v", "type": "quantitative"}}},
  {"data": {"values": [{"a": 29.1, "b": 38.1, "lo": 0, "hi": 325}]}, "mark": {"type": "rect", "color": "#FF9900", "opacity": 0.4},
   "encoding": {"x": {"field": "a", "type": "quantitative"}, "x2": {"field": "b"}, "y": {"field": "lo", "type": "quantitative"}, "y2": {"field": "hi"}}},
  {"data": {"values": [{"t": 21.6, "lo": 10.7, "hi": 314.7}, {"t": 28.4, "lo": 7.4, "hi": 314.7}]}, "mark": {"type": "rule", "color": "#000", "strokeWidth": 3},
   "encoding": {"x": {"field": "t", "type": "quantitative"}, "y": {"field": "lo", "type": "quantitative"}, "y2": {"field": "hi"}}},
  {"data": {"values": [{"t": 21.7, "v": 211.4, "d": "up"}, {"t": 28.6, "v": 186.8, "d": "down"}]}, "mark": {"type": "point", "filled": true, "color": "#000", "size": 784, "opacity": 1},
   "encoding": {"x": {"field": "t", "type": "quantitative"}, "y": {"field": "v", "type": "quantitative"}, "shape": {"field": "d", "type": "nominal", "scale": {"domain": ["up", "down"], "range": ["M0,-0.93L1,0.93L-1,0.93Z", "M0,0.93L1,-0.93L-1,-0.93Z"]}, "legend": null}}}
 ]
},
{
 "width": 342, "height": 262,
 "title": {"text": "PPS", "subtitle": "Psychogenic Pseudosyncope", "dx": -16},
 "layer": [
  {"data": {"name": "s3"}, "mark": {"type": "area", "color": "#2964AE"},
   "encoding": {
    "x": {"field": "t", "type": "quantitative", "scale": {"domain": [0, 900], "nice": false, "zero": false}, "axis": {"values": [0, 300, 600, 900], "tickSize": 8, "labelPadding": 7, "zindex": 2, "labelExpr": "datum.value == 0 ? '' : datum.value == 900 ? '900 s' : datum.label", "labelOffset": {"condition": {"test": "datum.value == 900", "value": -10}, "value": 0}}},
    "y": {"field": "v", "type": "quantitative", "scale": {"domain": [0, 150], "nice": false}, "axis": {"values": [0, 50, 100, 150], "tickSize": 7, "labels": false, "zindex": 2}}
   }},
  {"data": {"name": "d3"}, "mark": {"type": "area", "color": "#FFFFFF", "stroke": "#FFFFFF", "strokeWidth": 1.5}, "encoding": {"x": {"field": "t", "type": "quantitative"}, "y": {"field": "v", "type": "quantitative"}}},
  {"data": {"name": "s3"}, "mark": {"type": "line", "color": "#2D2A70", "strokeWidth": 1.6}, "encoding": {"x": {"field": "t", "type": "quantitative"}, "y": {"field": "v", "type": "quantitative"}}},
  {"data": {"name": "d3"}, "mark": {"type": "line", "color": "#2D2A70", "strokeWidth": 1.6}, "encoding": {"x": {"field": "t", "type": "quantitative"}, "y": {"field": "v", "type": "quantitative"}}},
  {"data": {"values": [{"a": 379, "b": 527, "lo": 0, "hi": 325}]}, "mark": {"type": "rect", "color": "#FF9900", "opacity": 0.4},
   "encoding": {"x": {"field": "a", "type": "quantitative"}, "x2": {"field": "b"}, "y": {"field": "lo", "type": "quantitative"}, "y2": {"field": "hi"}}}
 ]
}
]
}
